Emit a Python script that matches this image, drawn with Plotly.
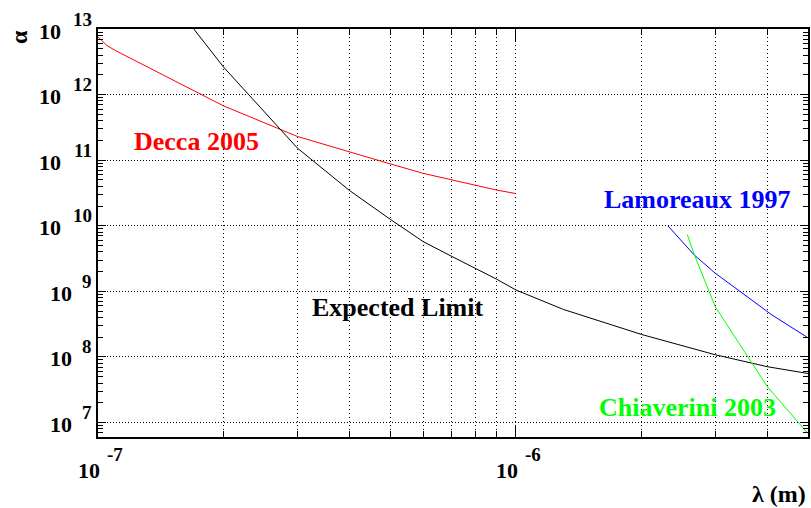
import plotly.graph_objects as go
import numpy as np

# Expected sensitivity curve
expected_lambda = [1.6e-7, 2e-7, 3e-7, 4e-7, 5e-7, 6e-7, 7e-7, 8e-7, 9e-7, 1e-6,
                   1.3e-6, 2e-6, 3e-6, 4e-6, 5e-6]
expected_alpha = [1.6e13, 2.6e12, 1.53e11, 3.44e10, 1.26e10, 5.74e9, 3.45e9, 2.25e9,
                  1.53e9, 1.05e9, 5.3e8, 2.2e8, 1.08e8, 7.1e7, 5.6e7]

# Decca 2005 limit
decca_lambda = [1e-7, 1.05e-7, 1.1e-7, 2e-7, 3e-7, 4e-7, 5e-7, 6e-7, 7e-7, 8e-7, 9e-7, 1e-6]
decca_alpha = [7.6e12, 5.6e12, 4.7e12, 6.7e11, 2.3e11, 1.32e11, 8.8e10, 6.3e10,
               5.0e10, 4.15e10, 3.5e10, 3.1e10]

# Lamoreaux 1997 limit
lamoreaux_lambda = [2.31e-6, 2.67e-6, 3e-6, 3.44e-6, 4.1e-6, 5e-6]
lamoreaux_alpha = [1e10, 3.6e9, 1.89e9, 9.9e8, 4.37e8, 1.96e8]

# Chiaverini 2003 limit
chiaverini_lambda = [2.57e-6, 2.67e-6, 3e-6, 4e-6, 5e-6]
chiaverini_alpha = [7.4e9, 3.7e9, 5.8e8, 3.5e7, 6.8e6]

x_decades = [-7, -6]
y_decades = [7, 8, 9, 10, 11, 12, 13]

FONT = "Liberation Serif, Times New Roman, serif"

fig = go.Figure()
fig.add_trace(go.Scatter(x=decca_lambda, y=decca_alpha, mode="lines",
                         line=dict(color="#ff0000", width=1)))
fig.add_trace(go.Scatter(x=expected_lambda, y=expected_alpha, mode="lines",
                         line=dict(color="#000000", width=1)))
fig.add_trace(go.Scatter(x=lamoreaux_lambda, y=lamoreaux_alpha, mode="lines",
                         line=dict(color="#0000ff", width=1)))
fig.add_trace(go.Scatter(x=chiaverini_lambda, y=chiaverini_alpha, mode="lines",
                         line=dict(color="#00ff00", width=1)))

x_major = [10.0 ** d for d in x_decades]
x_minor = [m * 10.0 ** d for d in x_decades for m in range(2, 10) if m * 10.0 ** d < 5e-6]
y_major = [10.0 ** d for d in y_decades]
y_minor = [m * 10.0 ** d for d in range(6, 13) for m in range(2, 10)]

xgrid = dict(gridcolor="#000000", gridwidth=1, griddash="1px,3px")
ygrid = dict(gridcolor="#000000", gridwidth=1, griddash="1px,2px")

fig.update_xaxes(type="log", range=[-7, np.log10(5e-6)],
                 showline=True, linecolor="black", linewidth=2, mirror="allticks",
                 ticks="inside", tickmode="array", tickvals=x_major, ticklen=12,
                 tickcolor="black", showticklabels=False, showgrid=True, zeroline=False,
                 minor=dict(tickmode="array", tickvals=x_minor, ticks="inside", ticklen=6,
                            tickcolor="black", showgrid=True, **xgrid),
                 **xgrid)
fig.update_yaxes(type="log", range=[6.78, 13],
                 showline=True, linecolor="black", linewidth=2, mirror="allticks",
                 ticks="inside", tickmode="array", tickvals=y_major, ticklen=8,
                 tickcolor="black", showticklabels=False, showgrid=True, zeroline=False,
                 minor=dict(tickmode="array", tickvals=y_minor, ticks="inside", ticklen=5,
                            tickcolor="black", showgrid=False),
                 **ygrid)

ann = []
tick_font = dict(family=FONT, size=22, color="black", weight="bold")
exp_font = dict(family=FONT, size=19, color="black", weight="bold")

# y tick labels: 10 with raised exponent, right-aligned to the frame
for d in y_decades:
    e = str(d)
    ann.append(dict(text=e, xref="paper", x=0, yref="y", y=d, xanchor="right",
                    yanchor="middle", xshift=-4, yshift=10, showarrow=False, font=exp_font))
    ann.append(dict(text="10", xref="paper", x=0, yref="y", y=d, xanchor="right",
                    yanchor="middle", xshift=-4 - 10 - 10.5 * len(e), yshift=-2,
                    showarrow=False, font=tick_font))

# x tick labels below the frame
for d in x_decades:
    ann.append(dict(text="10", xref="x", x=d, yref="paper", y=0, xanchor="center",
                    yanchor="middle", xshift=-9, yshift=-33, showarrow=False, font=tick_font))
    ann.append(dict(text="-" + str(-d), xref="x", x=d, yref="paper", y=0, xanchor="left",
                    yanchor="middle", xshift=7, yshift=-17, showarrow=False, font=exp_font))

# axis titles
ann.append(dict(text="α", xref="paper", x=0, yref="paper", y=1, xanchor="center",
                yanchor="middle", xshift=-79, yshift=-8, textangle=-90, showarrow=False,
                font=dict(family=FONT, size=24, color="black", weight="bold")))
ann.append(dict(text="λ (m)", xref="paper", x=1, yref="paper", y=0, xanchor="right",
                yanchor="middle", xshift=0, yshift=-57, showarrow=False,
                font=dict(family=FONT, size=24, color="black", weight="bold")))

# curve labels
label_font = dict(family=FONT, size=26, weight="bold")
ann.append(dict(text="Decca 2005", xref="x", x=-6.919, yref="y", y=11.28, xanchor="left",
                yanchor="middle", showarrow=False, font=dict(label_font, color="#ff0000")))
ann.append(dict(text="Lamoreaux 1997", xref="x", x=-5.794, yref="y", y=10.405, xanchor="left",
                yanchor="middle", showarrow=False, font=dict(label_font, color="#0000ff")))
ann.append(dict(text="Chiaverini 2003", xref="x", x=-5.805, yref="y", y=7.235, xanchor="left",
                yanchor="middle", showarrow=False, font=dict(label_font, color="#00ff00")))
ann.append(dict(text="Expected Limit", xref="x", x=-6.493, yref="y", y=8.76, xanchor="left",
                yanchor="middle", showarrow=False, font=dict(label_font, color="#000000")))

fig.update_layout(width=811, height=508, margin=dict(l=98, r=1, t=29, b=71),
                  paper_bgcolor="white", plot_bgcolor="white", showlegend=False,
                  annotations=ann)

fig.write_html("out.html")
